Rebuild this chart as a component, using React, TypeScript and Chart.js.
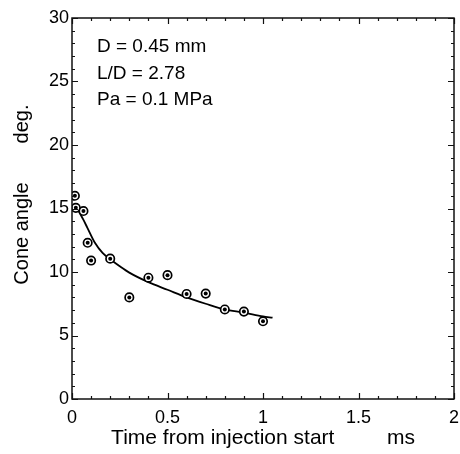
import React, { useEffect, useRef } from "react";
import { Chart, registerables } from "chart.js";

Chart.register(...registerables);

// Measured spray cone angle (deg.) vs time from injection start (ms)
const timeMs = [0.015, 0.02, 0.06, 0.082, 0.1, 0.2, 0.3, 0.4, 0.5, 0.6, 0.7, 0.8, 0.9, 1.0];
const coneAngle = [16.0, 15.05, 14.8, 12.3, 10.9, 11.05, 8.0, 9.55, 9.75, 8.27, 8.3, 7.05, 6.88, 6.12];

// Fitted curve
const fitTime = [0.035, 0.06, 0.08, 0.12, 0.16, 0.2, 0.25, 0.3, 0.4, 0.5, 0.6, 0.7, 0.8, 0.9, 1.0, 1.05];
const fitAngle = [14.8, 14.1, 13.5, 12.3, 11.5, 11.0, 10.45, 9.95, 9.2, 8.6, 8.0, 7.5, 7.05, 6.8, 6.5, 6.4];

const xTickLabels = ["0", "0.5", "1", "1.5", "2"];
const notes = ["D = 0.45 mm", "L/D = 2.78", "Pa = 0.1 MPa"];

const FONT = "'Liberation Sans', Arial, Helvetica, sans-serif";

const framePlugin = {
  id: "frameTicks",
  afterDraw(chart: any) {
    const { ctx, chartArea: a, scales } = chart;
    const x = scales.x;
    const y = scales.y;
    ctx.save();
    ctx.strokeStyle = "#111";
    ctx.lineWidth = 1.5;
    ctx.strokeRect(a.left, a.top, a.right - a.left, a.bottom - a.top);
    ctx.lineWidth = 1.2;
    ctx.beginPath();
    for (let i = 0; i <= 20; i++) {
      const px = Math.round(x.getPixelForValue(i / 10)) + 0.5;
      const len = i % 5 === 0 ? 6 : 3;
      ctx.moveTo(px, a.bottom);
      ctx.lineTo(px, a.bottom - len);
      ctx.moveTo(px, a.top);
      ctx.lineTo(px, a.top + len);
    }
    for (let i = 0; i <= 30; i++) {
      const py = Math.round(y.getPixelForValue(i)) + 0.5;
      const len = i % 5 === 0 ? 6 : 3;
      ctx.moveTo(a.left, py);
      ctx.lineTo(a.left + len, py);
      ctx.moveTo(a.right, py);
      ctx.lineTo(a.right - len, py);
    }
    ctx.stroke();
    ctx.fillStyle = "#000";
    ctx.font = `19px ${FONT}`;
    ctx.textBaseline = "alphabetic";
    ctx.textAlign = "left";
    notes.forEach((t, i) => {
      ctx.fillText(t, a.left + 25, a.top + 34 + i * 26.5);
    });
    ctx.restore();
  },
};

export default function App() {
  const ref = useRef<HTMLCanvasElement | null>(null);

  useEffect(() => {
    if (!ref.current) return;
    const chart = new Chart(ref.current, {
      type: "scatter",
      data: {
        datasets: [
          {
            label: "fit",
            data: fitTime.map((t, i) => ({ x: t, y: fitAngle[i] })),
            showLine: true,
            borderColor: "#000",
            borderWidth: 1.8,
            pointRadius: 0,
            cubicInterpolationMode: "monotone",
            order: 3,
          },
          {
            label: "measured",
            data: timeMs.map((t, i) => ({ x: t, y: coneAngle[i] })),
            pointRadius: 4.2,
            pointBorderWidth: 1.7,
            pointBackgroundColor: "#fff",
            pointBorderColor: "#000",
            order: 2,
          },
          {
            label: "measured-dot",
            data: timeMs.map((t, i) => ({ x: t, y: coneAngle[i] })),
            pointRadius: 2,
            pointBorderWidth: 0,
            pointBackgroundColor: "#000",
            pointBorderColor: "#000",
            order: 1,
          },
        ],
      },
      options: {
        animation: false,
        responsive: false,
        maintainAspectRatio: false,
        devicePixelRatio: 1,
        layout: { padding: { left: 0, right: 6, top: 18, bottom: 0 } },
        plugins: { legend: { display: false }, tooltip: { enabled: false } },
        scales: {
          x: {
            type: "linear",
            min: 0,
            max: 2,
            grid: { display: false, drawTicks: false },
            border: { display: false },
            ticks: {
              stepSize: 0.5,
              color: "#000",
              padding: 8,
              maxRotation: 0,
              font: { size: 18, family: FONT },
              callback: (v: any) => xTickLabels[Math.round(Number(v) / 0.5)] ?? "",
            },
            title: {
              display: true,
              text: "Time from injection start         ms",
              color: "#000",
              font: { size: 21, family: FONT },
              padding: { top: 0, bottom: 3 },
            },
            afterFit: (s: any) => {
              s.height = 55;
              s.paddingLeft = 0;
              s.paddingRight = 0;
            },
          },
          y: {
            type: "linear",
            min: 0,
            max: 30,
            grid: { display: false, drawTicks: false },
            border: { display: false },
            ticks: {
              stepSize: 5,
              color: "#000",
              padding: 3,
              font: { size: 18, family: FONT },
            },
            title: {
              display: true,
              text: "     Cone angle       deg.",
              color: "#000",
              font: { size: 20, family: FONT },
              padding: { top: 10, bottom: 0 },
            },
            afterFit: (s: any) => {
              s.width = 72;
              s.paddingTop = 0;
              s.paddingBottom = 0;
            },
          },
        },
      },
      plugins: [framePlugin],
    } as any);
    return () => chart.destroy();
  }, []);

  return (
    <div style={{ position: "absolute", left: 0, top: 0, width: 460, height: 454, background: "#fff" }}>
      <canvas ref={ref} width={460} height={454} style={{ width: 460, height: 454 }} />
    </div>
  );
}
